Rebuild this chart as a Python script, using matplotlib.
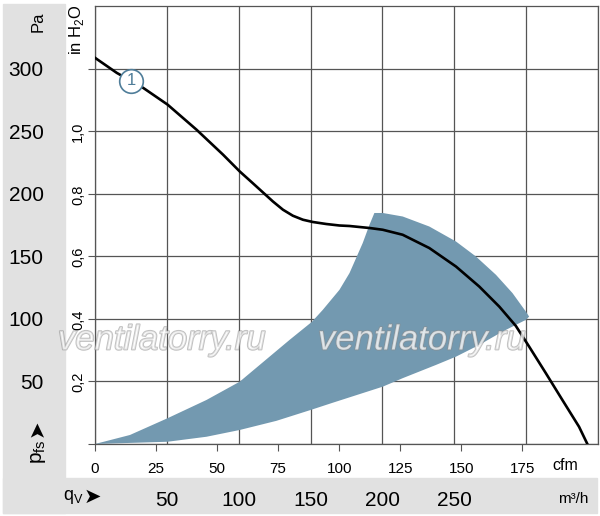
import matplotlib.pyplot as plt
import matplotlib.patheffects as pe
from matplotlib.patches import Rectangle

plt.rcParams['font.family'] = ['Liberation Sans', 'DejaVu Sans']

# fan curve 1 (m3/h, Pa)
curve_q = [0, 15.1, 33.5, 50.5, 70.6, 89.1, 100.7, 110, 116.9, 123.8, 130.8, 137.7,
           144.7, 151.6, 160.9, 170.1, 177.1, 191, 200.2, 214.1, 232.6, 251.2, 267.4,
           281.3, 292.8, 302.1, 313.7, 325.2, 336.8, 342.6]
curve_p = [308.6, 296.6, 284.6, 271.2, 251.2, 231.2, 217.8, 208.2, 201, 193.8, 187.2,
           182.4, 179.2, 177.4, 175.8, 174.6, 174.2, 172.6, 171.2, 167.2, 156.6, 141.8,
           125.8, 109.8, 94.4, 77.8, 56.6, 35.2, 13.8, 0]

# working range (shaded), outline going round
zone_q = [0, 24.3, 50.5, 77.6, 100.7, 135.4, 150.9, 158.5, 170.1, 177.1, 181.7, 186.3,
          191, 194.4,
          200.2, 214.1, 232.6, 251.2, 265.1, 279, 290.5, 299.8, 302.1,
          299.8, 283.5, 267.4, 251.2, 237.3, 214.1, 200.2, 165.5, 150.9, 126.2,
          100.7, 77.6, 50.5, 0]
zone_p = [0, 7.2, 20.6, 35.2, 49.8, 83.2, 97.6, 107.2, 123.2, 136.6, 148.6, 160.6,
          175.2, 184.6,
          184.6, 181.8, 173.8, 161.8, 149.8, 135.2, 120.6, 105.8, 101.8,
          99.2, 89.8, 79.2, 69.8, 63.2, 52.6, 45.8, 33, 27.5, 18.5,
          11.2, 5.8, 1.8, 0]

pa_ticks = [0, 50, 100, 150, 200, 250, 300]
inh2o_ticks = [0.2, 0.4, 0.6, 0.8, 1.0]
m3h_ticks = [0, 50, 100, 150, 200, 250, 300, 350]
m3h_labels = ['', '50', '100', '150', '200', '250', '', '']
cfm_ticks = [0, 25, 50, 75, 100, 125, 150, 175]

PA_PER_INH2O = 249.089
M3H_PER_CFM = 1.699

W, H = 600, 516
fig = plt.figure(figsize=(6, 5.16), dpi=100)

# grey bands, kept under the axes and their labels
band = '#e1e1e1'
fig.patches.append(Rectangle((3 / W, 3 / H), 62 / W, 1 - 7 / H, transform=fig.transFigure,
                             color=band, zorder=-5))
fig.patches.append(Rectangle((3 / W, 3 / H), 594 / W, 35 / H, transform=fig.transFigure,
                             color=band, zorder=-5))

ax = fig.add_axes([95 / W, (H - 444) / H, 503 / W, 438 / H])
ax.set_xlim(0, 350)
ax.set_ylim(0, 350)

ax.fill(zone_q, zone_p, color='#7399b0', lw=0, zorder=2)
ax.plot(curve_q, curve_p, color='black', lw=1.9, zorder=3, solid_joinstyle='round')
ax.plot([25], [290.4], 'o', ms=17, mfc='white', mec='#4f7d99', mew=1.2, zorder=4)
ax.text(25, 290.4, '1', color='#4f7d99', fontsize=12, ha='center', va='center', zorder=5)

ax.set_xticks(m3h_ticks)
ax.set_yticks(pa_ticks)
ax.tick_params(length=0, labelbottom=False, labelleft=False)
ax.grid(True, color='#555555', lw=0.9)
ax.set_axisbelow(True)
for s in ax.spines.values():
    s.set_color('#555555')
    s.set_linewidth(0.9)

same = (lambda v: v, lambda v: v)

# m3/h axis
sec_m3 = ax.secondary_xaxis('bottom', functions=same)
sec_m3.set_xticks(m3h_ticks)
sec_m3.set_xticklabels(m3h_labels, fontsize=15)
sec_m3.tick_params(length=0, pad=34)
sec_m3.spines['bottom'].set_visible(False)

# cfm axis
sec_x = ax.secondary_xaxis('bottom', functions=(lambda q: q / M3H_PER_CFM,
                                                 lambda c: c * M3H_PER_CFM))
sec_x.set_xticks(cfm_ticks)
sec_x.set_xticklabels([str(v) for v in cfm_ticks], fontsize=11)
sec_x.tick_params(length=5, direction='out', color='#555555', pad=8)
sec_x.spines['bottom'].set_visible(False)

# Pa axis
sec_pa = ax.secondary_yaxis('left', functions=same)
sec_pa.set_yticks(pa_ticks)
sec_pa.set_yticklabels([''] + [str(v) for v in pa_ticks[1:]], fontsize=15)
sec_pa.tick_params(length=5, direction='out', color='#555555', pad=32)
sec_pa.spines['left'].set_visible(False)

# in H2O axis
sec_y = ax.secondary_yaxis('left', functions=(lambda p: p / PA_PER_INH2O,
                                               lambda i: i * PA_PER_INH2O))
sec_y.set_yticks(inh2o_ticks)
sec_y.set_yticklabels([f'{v:.1f}'.replace('.', ',') for v in inh2o_ticks],
                      rotation=90, va='center', fontsize=10.5)
sec_y.tick_params(length=0, pad=7)
sec_y.spines['left'].set_visible(False)

# unit labels
def px(x, y):
    return x / W, 1 - y / H

fig.text(*px(565, 466), 'cfm', fontsize=11.5, ha='center', va='center')
fig.text(*px(573, 499), 'm³/h', fontsize=11, ha='center', va='center')
fig.text(*px(38, 22), 'Pa', fontsize=12, rotation=90, ha='center', va='center')
fig.text(*px(76, 30), 'in H$_\\mathregular{2}$O', fontsize=12, rotation=90,
         ha='center', va='center')
fig.text(*px(73, 497), 'q$_\\mathregular{V}$', fontsize=13, ha='center', va='center')
fig.text(*px(92, 497), '➤', fontsize=15, ha='center', va='center', family='DejaVu Sans')
fig.text(*px(38, 452), 'p$_\\mathregular{fs}$', fontsize=15, rotation=90,
         ha='center', va='center')
fig.text(*px(37, 428), '➤', fontsize=15, rotation=90, ha='center', va='center',
         family='DejaVu Sans')

# watermark
for cx in (162, 422):
    fig.text(*px(cx, 340), 'ventilatorry.ru', fontsize=25, style='italic',
             color='white', alpha=0.55, ha='center', va='center', zorder=10,
             path_effects=[pe.withStroke(linewidth=1.3, foreground='#8c8c8c')])

fig.savefig('out.png', dpi=100)
